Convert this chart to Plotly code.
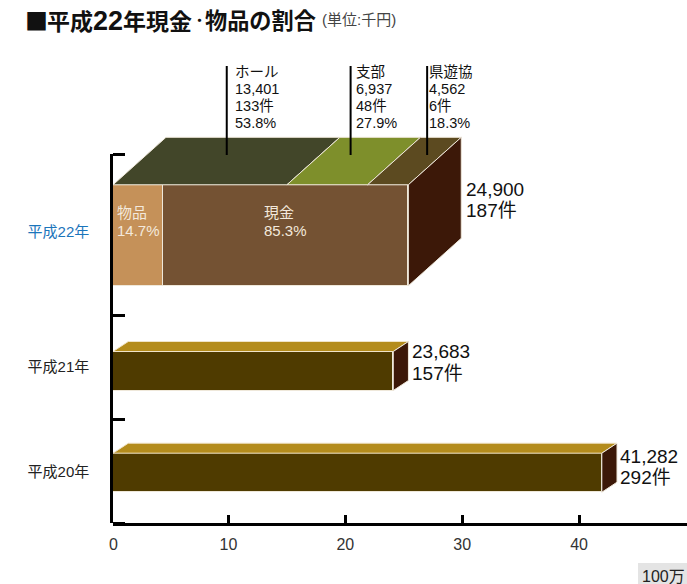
import plotly.graph_objects as go

FIG_W, FIG_H = 687, 584
PLOT_L, PLOT_R, PLOT_T, PLOT_B = 112.7, 687, 60, 523

# --- data ---
CATEGORIES = ["平成20年", "平成21年", "平成22年"]
CATEGORY_POS = [51, 156, 291]
CATEGORY_COLORS = ["#222222", "#222222", "#1B75BB"]
BAND_EDGES = [0, 104, 208, 369]

TOTAL_LABELS = [["41,282", "292件"], ["23,683", "157件"], ["24,900", "187件"]]
PLAIN_YEARS_Y = [50.3, 152.0]
PLAIN_YEARS_LEN = [41.95, 24.1]
PLAIN_YEARS_H = [39, 39]

Y22_CENTER = 287.7
Y22_H = 101
GOODS_LEN = 4.41
CASH_LEN = 20.98
TOP_SEGMENTS = ["ホール", "支部", "県遊協"]
TOP_SEG_ENDS = [15.0, 21.9, 25.39]
TOP_COLORS = ["#424629", "#7E8F2B", "#5C4A20"]
CALLOUT_X = [9.85, 20.45, 27.0]
CALLOUT_TEXT = [
    ["ホール", "13,401", "133件", "53.8%"],
    ["支部", "6,937", "48件", "27.9%"],
    ["県遊協", "4,562", "6件", "18.3%"],
]
XTICKS = [0.15, 10, 20, 30, 40]
XTICK_TEXT = ["0", "10", "20", "30", "40"]

# --- styles ---
INK = "#111111"
EDGE = "#EFE8DA"
SIDE = "#3C1808"
DARK = "#4F3B00"
GOLD = "#B48C1C"
GOODS = "#C59159"
CASH = "#745233"
SANS = "'Liberation Sans', 'Noto Sans CJK JP', sans-serif"
CJK = "'Noto Sans CJK JP', sans-serif"
DX22, DY22 = 4.53, 47.5
DX, DY = 1.3, 10
Y_MAX = PLOT_B - PLOT_T
AXIS_TOP = 369

fig = go.Figure()

fig.add_bar(orientation="h", y=PLAIN_YEARS_Y, x=PLAIN_YEARS_LEN, width=PLAIN_YEARS_H,
            marker=dict(color=DARK, line=dict(color=EDGE, width=1)), hoverinfo="skip")
fig.add_bar(orientation="h", y=[Y22_CENTER], x=[GOODS_LEN], width=[Y22_H], name="物品",
            marker=dict(color=GOODS, line=dict(color=EDGE, width=1)), hoverinfo="skip")
fig.add_bar(orientation="h", y=[Y22_CENTER], x=[CASH_LEN], width=[Y22_H], name="現金",
            marker=dict(color=CASH, line=dict(color=EDGE, width=1)), hoverinfo="skip")


def face(xs, ys, color, edge=None):
    fig.add_scatter(x=xs + xs[:1], y=ys + ys[:1], mode="lines", fill="toself", fillcolor=color,
                    line=dict(color=edge or color, width=1),
                    hoverinfo="skip", showlegend=False)


# extruded faces of the two plain bars
for yc, ln, h in zip(PLAIN_YEARS_Y, PLAIN_YEARS_LEN, PLAIN_YEARS_H):
    top, bot = yc + h / 2, yc - h / 2
    face([0.12, ln, ln + DX, 0.12 + DX], [top, top, top + DY, top + DY], GOLD, "#F0E4C8")
    face([ln, ln + DX, ln + DX, ln], [top, top + DY, bot + DY, bot], SIDE, EDGE)

# extruded faces of the 平成22年 bar
top22, bot22 = Y22_CENTER + Y22_H / 2, Y22_CENTER - Y22_H / 2
start = 0.12
for end, col in zip(TOP_SEG_ENDS, TOP_COLORS):
    face([start, end, end + DX22, start + DX22],
         [top22, top22, top22 + DY22, top22 + DY22], col, EDGE)
    start = end
end22 = TOP_SEG_ENDS[-1]
face([end22, end22 + DX22, end22 + DX22, end22],
     [top22, top22 + DY22, bot22 + DY22, bot22], SIDE, EDGE)

# callout leader lines
for cx in CALLOUT_X:
    fig.add_scatter(x=[cx, cx], y=[368, 457], mode="lines",
                    line=dict(color="#000000", width=2), hoverinfo="skip", showlegend=False)

# carrier trace so the visible category axis is drawn
fig.add_scatter(x=[1, 1, 1], y=CATEGORY_POS, yaxis="y2", mode="markers",
                marker=dict(opacity=0, size=1), hoverinfo="skip", showlegend=False)


def note(px, py, text, size, color=INK, bold=False, family=SANS):
    fig.add_annotation(xref="paper", yref="paper", xanchor="left", yanchor="middle",
                       x=(px - PLOT_L) / (PLOT_R - PLOT_L),
                       y=(PLOT_B - py) / (PLOT_B - PLOT_T),
                       text=f"<b>{text}</b>" if bold else text, showarrow=False,
                       font=dict(family=family, size=size, color=color), borderpad=0, borderwidth=0)


note(25, 20, "■", 23, "#111111", bold=True, family=CJK)
note(47, 21, "平成<span style='font-size:27px'>22</span>年現金", 23, "#111111", bold=True)
note(193, 20, "・", 13, "#111111", bold=True, family=CJK)
note(205, 21, "物品の割合", 22.2, "#111111", bold=True)
note(322, 20, "(単位:千円)", 15, "#444444")

for lx, lines in zip([235, 356, 429], CALLOUT_TEXT):
    for py, t in zip([72, 89, 106, 123], lines):
        note(lx, py, t, 14.5)

note(117, 213, "物品", 15, "#F3E9DC")
note(117, 231, "14.7%", 15, "#F3E9DC")
note(264, 213, "現金", 15, "#F3E9DC")
note(264, 231, "85.3%", 15, "#F3E9DC")

for (lx, y1, y2), lines in zip([(620, 456, 477), (411.5, 352, 373), (466, 189, 210)], TOTAL_LABELS):
    note(lx, y1, lines[0], 19)
    note(lx, y2, lines[1], 19)

fig.add_shape(type="rect", xref="paper", yref="paper", layer="below", line_width=0,
              fillcolor="#E4E4E4", x0=(638 - PLOT_L) / (PLOT_R - PLOT_L), x1=1,
              y0=(PLOT_B - 584) / (PLOT_B - PLOT_T), y1=(PLOT_B - 563) / (PLOT_B - PLOT_T))
note(642, 576, "100万", 16, "#222222")

ticklabels = [f'<span style="color:{c}">{t}</span>' for t, c in zip(CATEGORIES, CATEGORY_COLORS)]

fig.update_layout(
    width=FIG_W, height=FIG_H, barmode="stack", bargap=0, showlegend=False,
    paper_bgcolor="white", plot_bgcolor="rgba(0,0,0,0)",
    margin=dict(l=PLOT_L, r=FIG_W - PLOT_R, t=PLOT_T, b=FIG_H - PLOT_B, pad=0, autoexpand=False),
    font=dict(family=SANS, color=INK),
    xaxis=dict(range=[0.115, 49.24], tickmode="array", tickvals=XTICKS, ticktext=XTICK_TEXT,
               ticks="inside", ticklen=8, tickwidth=2.5, tickcolor="#000000",
               showline=True, linecolor="#000000", linewidth=2.5, showgrid=False, zeroline=False,
               tickfont=dict(size=16, color="#333333"), ticklabelstandoff=5, fixedrange=True),
    # the bars and faces live on this hidden axis, which leaves room above the visible scale
    yaxis=dict(range=[0, Y_MAX], domain=[0, 1], visible=False, showgrid=False, zeroline=False,
               fixedrange=True),
    # the visible bracket-like category axis stops at the top tick
    yaxis2=dict(range=[0, AXIS_TOP], domain=[0, AXIS_TOP / Y_MAX], anchor="x",
                tickmode="array", tickvals=CATEGORY_POS, ticktext=ticklabels,
                ticks="", showline=True, linecolor="#000000", linewidth=2.5, showgrid=False,
                zeroline=False, tickfont=dict(size=15), ticklabelstandoff=18, fixedrange=True,
                minor=dict(tickmode="array", tickvals=BAND_EDGES, ticks="inside", ticklen=12,
                           tickwidth=2.5, tickcolor="#000000", showgrid=False)),
)

fig.write_html("out.html", config={"displayModeBar": False},
               post_script="document.body.style.margin='0';document.body.style.overflow='hidden';")
